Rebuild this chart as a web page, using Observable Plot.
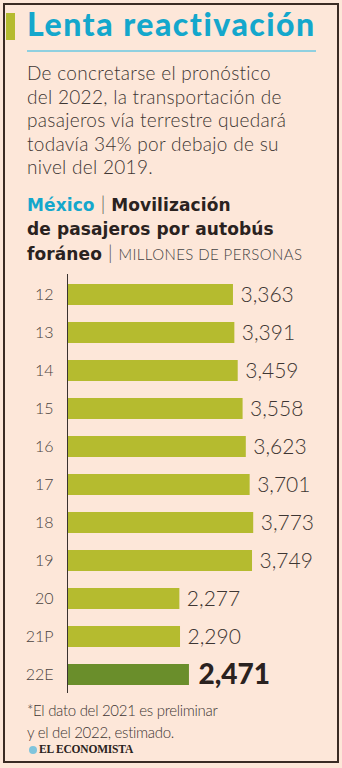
<!DOCTYPE html>
<html>
<head>
<meta charset="utf-8">
<script src="https://cdn.jsdelivr.net/npm/d3@7"></script>
<script src="https://cdn.jsdelivr.net/npm/@observablehq/plot@0.6"></script>
<style>
  html, body { margin: 0; padding: 0; background: #fde7d9; }
  #wrap { position: relative; width: 342px; height: 768px; background: #fde7d9; overflow: hidden; font-family: Lato, "Open Sans", sans-serif; }
  #frame { position: absolute; left: 3px; top: 3px; width: 332px; height: 756px; border: 2px solid #3a2b24; }
  #sidebar { position: absolute; left: 6px; top: 13px; width: 9px; height: 27px; background: #b5bb2f; }
  #title { position: absolute; left: 27px; top: 4px; font-size: 32px; font-weight: 900; color: #14a7cc; letter-spacing: 1.5px; white-space: nowrap; }
  #rule { position: absolute; left: 27px; top: 50px; width: 289px; height: 1.5px; background: #8fd0e0; }
  #sub { position: absolute; left: 27px; top: 61px; font-size: 19px; line-height: 23.5px; color: #3d3633; font-weight: 300; letter-spacing: 0.3px; }
  #ctitle { position: absolute; left: 27px; top: 192px; font-family: "DejaVu Sans", sans-serif; font-size: 17px; line-height: 24px; color: #2a2220; font-weight: bold; white-space: nowrap; letter-spacing: 0.1px; }
  #ctitle .mx { color: #14a7cc; }
  #ctitle .sep { font-family: Lato, sans-serif; font-weight: 300; color: #555; font-size: 19px; letter-spacing: 0; }
  #ctitle .unit { font-family: Lato, sans-serif; font-weight: 300; font-size: 15px; color: #444; letter-spacing: 0.4px; }
  #chart { position: absolute; left: 0; top: 262px; }
  #note { position: absolute; left: 27px; top: 699px; font-size: 15px; line-height: 22px; color: #3d3633; font-weight: 300; letter-spacing: -0.3px; }
  #logo { position: absolute; left: 29px; top: 743px; font-family: "Liberation Serif", "DejaVu Serif", serif; font-weight: bold; font-size: 11.5px; color: #2a2220; white-space: nowrap; letter-spacing: -0.2px; }
  #logo .dot { display: inline-block; width: 8px; height: 8px; border-radius: 50%; background: #7fc4dc; margin-right: 2px; vertical-align: -0.5px; }
</style>
</head>
<body>
<div id="wrap">
  <div id="frame"></div>
  <div id="sidebar"></div>
  <div id="title">Lenta reactivación</div>
  <div id="rule"></div>
  <div id="sub">De concretarse el pronóstico<br>del 2022, la transportación de<br>pasajeros vía terrestre quedará<br>todavía 34% por debajo de su<br>nivel del 2019.</div>
  <div id="ctitle"><span class="mx">México</span> <span class="sep">|</span> Movilización<br>de pasajeros por autobús<br>foráneo <span class="sep">|</span> <span class="unit">MILLONES DE PERSONAS</span></div>
  <div id="chart"></div>
  <div id="note">*El dato del 2021 es preliminar<br>y el del 2022, estimado.</div>
  <div id="logo"><span class="dot"></span>EL ECONOMISTA</div>
</div>
<script>
const categories = ["12","13","14","15","16","17","18","19","20","21P","22E"];
const values = [3363,3391,3459,3558,3623,3701,3773,3749,2277,2290,2471];
const highlight = "22E";

const data = categories.map((c, i) => ({cat: c, value: values[i], hi: c === highlight}));
const fmt = d3.format(",");

const plot = Plot.plot({
  width: 342,
  height: 445,
  marginLeft: 67,
  marginRight: 77.6,
  marginTop: 3,
  marginBottom: 3.5,
  style: {background: "transparent", fontFamily: "Lato, 'Open Sans', sans-serif"},
  x: {domain: [0, 4000], axis: null},
  y: {domain: categories, padding: 0.45, label: null, tickSize: 0, tickPadding: 14},
  marks: [
    Plot.barX(data, {x: "value", y: "cat", fill: d => d.hi ? "#6a8e2b" : "#b5bb2f"}),
    Plot.ruleX([0], {stroke: "#3a3330", strokeWidth: 1, insetTop: 9, insetBottom: 10.5}),
    Plot.axisY({tickSize: 0, tickPadding: 14, fontSize: 16, fill: "#4a4340", fontWeight: 300, label: null}),
    Plot.text(data.filter(d => !d.hi), {x: "value", y: "cat", text: d => fmt(d.value), textAnchor: "start", dx: 7, fontSize: 21, fontWeight: 300, fill: "#3d3633"}),
    Plot.text(data.filter(d => d.hi), {x: "value", y: "cat", text: d => fmt(d.value), textAnchor: "start", dx: 9, fontSize: 28, fontWeight: 900, fill: "#2a2220"})
  ]
});
document.getElementById("chart").appendChild(plot);
</script>
</body>
</html>
